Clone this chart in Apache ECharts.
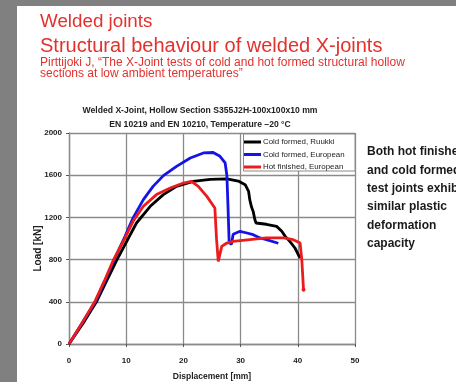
<!DOCTYPE html>
<html><head><meta charset="utf-8">
<script src="https://cdn.jsdelivr.net/npm/echarts@6/dist/echarts.min.js"></script>
<style>html,body{margin:0;padding:0;background:#fff;}#c{width:456px;height:382px;}</style>
</head><body><div id="c"></div>
<script>
// ---- data ----
const xTicks = [0, 10, 20, 30, 40, 50];
const yTicks = [0, 400, 800, 1200, 1600, 2000];
const seriesNames = ['Cold formed, Ruukki', 'Cold formed, European', 'Hot finished, European'];
const seriesColors = ['#000000', '#1414e6', '#ec1c1c'];
const ruukki = [[0,0],[2.5,200],[4.8,400],[6.6,600],[8.4,800],[10.4,1005],[11.8,1147],[14.2,1305],[16.5,1416],[18.8,1494],[21.7,1541],[24.7,1560],[27.6,1565],[29.6,1545],[30.8,1510],[31.4,1446],[31.6,1368],[31.9,1300],[32.2,1257],[32.5,1178],[32.7,1147],[34.5,1135],[36.3,1115],[37.2,1068],[37.8,1020],[38.6,973],[39.5,910],[40.4,815]];
const european = [[0,0],[2.3,200],[4.6,400],[6.3,600],[7.9,800],[9.8,1020],[11.2,1195],[13.0,1368],[14.7,1494],[16.5,1596],[18.8,1684],[21.2,1763],[23.5,1811],[25.2,1815],[26.4,1779],[27.3,1716],[27.6,1600],[27.8,1300],[28.0,960],[28.4,945],[28.7,1040],[29.9,1068],[31.1,1052],[32.2,1036],[33.4,1005],[34.5,989],[36.6,955]];
const hotFinished = [[0,0],[2.3,200],[4.5,400],[6.2,600],[7.8,800],[9.8,1005],[11.2,1163],[13.0,1305],[15.3,1416],[17.7,1479],[20.0,1526],[21.4,1541],[22.6,1494],[24.1,1399],[25.5,1289],[25.8,989],[26.1,783],[26.7,925],[27.6,957],[28.7,973],[31.6,989],[34.5,1005],[37.5,1005],[39.2,989],[40.4,957],[40.7,799],[41.0,515]];
const chartTitle = 'Welded X-Joint, Hollow Section S355J2H-100x100x10 mm';
const chartSubtitle = 'EN 10219 and EN 10210, Temperature \u201320 \u00B0C';
const xName = 'Displacement [mm]';
const yName = 'Load [kN]';
const slideTitle1 = 'Welded joints';
const slideTitle2 = 'Structural behaviour of welded X-joints';
const slideRef1 = 'Pirttijoki J, \u201CThe X-Joint tests of cold and hot formed structural hollow';
const slideRef2 = 'sections at low ambient temperatures\u201D';
const sideText = ['Both hot finished', 'and cold formed', 'test joints exhibit', 'similar plastic', 'deformation', 'capacity'];

// ---- chart ----
const FF = "'Liberation Sans', Arial, sans-serif";
const chart = echarts.init(document.getElementById('c'));
const G = {left: 69, top: 133, width: 286, height: 211, containLabel: false, outerBoundsMode: 'none'};
const gridColor = '#8a8a8a';
const red = '#e3312d';

function mkSeries(i, data) {
  const d = data.map((p, k) => (i === 2 && k === data.length - 1)
    ? {value: p, symbol: 'circle', symbolSize: 4} : p);
  return {
    name: seriesNames[i], type: 'line', data: d, symbol: 'none', showSymbol: true,
    lineStyle: {color: seriesColors[i], width: 2.8}, itemStyle: {color: seriesColors[i]},
    emphasis: {disabled: true}, animation: false, z: 3 + (i === 0 ? 0 : i)
  };
}

const graphics = [
  {type: 'rect', shape: {x: 0, y: 0, width: 17, height: 382}, style: {fill: '#808080'}, z: 100},
  {type: 'rect', shape: {x: 0, y: 0, width: 456, height: 6}, style: {fill: '#808080'}, z: 100},
  {type: 'text', x: 40, y: 22, style: {text: slideTitle1, font: '18.8px ' + FF, fill: red, verticalAlign: 'middle'}},
  {type: 'text', x: 40, y: 46, style: {text: slideTitle2, font: '20px ' + FF, fill: red, verticalAlign: 'middle'}},
  {type: 'text', x: 40, y: 62.5, style: {text: slideRef1, font: '12px ' + FF, fill: red, verticalAlign: 'middle'}},
  {type: 'text', x: 40, y: 74, style: {text: slideRef2, font: '12px ' + FF, fill: red, verticalAlign: 'middle'}},
  {type: 'text', x: 200, y: 111, style: {text: chartTitle, font: 'bold 8.6px ' + FF, fill: '#222', align: 'center', verticalAlign: 'middle'}},
  {type: 'text', x: 200, y: 125, style: {text: chartSubtitle, font: 'bold 8.6px ' + FF, fill: '#222', align: 'center', verticalAlign: 'middle'}},
  {type: 'text', x: 38, y: 248.5, rotation: Math.PI / 2, style: {text: yName, font: 'bold 10px ' + FF, fill: '#222', align: 'center', verticalAlign: 'middle'}},
  {type: 'rect', shape: {x: 243.5, y: 134, width: 111.5, height: 37}, style: {fill: '#fff', stroke: '#8a8a8a', lineWidth: 1}, z: 10}
];
sideText.forEach((t, i) => graphics.push({type: 'text', x: 367, y: 152 + i * 18.3,
  style: {text: t, font: 'bold 12px ' + FF, fill: '#1a1a1a', verticalAlign: 'middle'}}));

chart.setOption({
  animation: false,
  backgroundColor: '#fff',
  textStyle: {fontFamily: FF},
  grid: G,
  legend: {
    orient: 'vertical', left: 244, top: 138, z: 20,
    itemWidth: 17, itemHeight: 3, itemGap: 4.5, padding: 0,
    icon: 'rect',
    textStyle: {fontSize: 7.9, color: '#222', fontFamily: FF, padding: [0, 0, 0, -3]},
    data: seriesNames
  },
  xAxis: {
    type: 'value', min: xTicks[0], max: xTicks[xTicks.length - 1], interval: xTicks[1] - xTicks[0],
    name: xName, nameLocation: 'middle', nameGap: 28.5,
    nameTextStyle: {fontSize: 8.5, fontWeight: 'bold', color: '#222'},
    axisLine: {lineStyle: {color: gridColor, width: 1.3}},
    axisTick: {show: true, inside: false, length: 3, lineStyle: {color: '#555'}},
    axisLabel: {fontSize: 8, fontWeight: 'bold', color: '#222', margin: 12.5, formatter: v => String(v)},
    splitLine: {show: true, lineStyle: {color: gridColor, width: 1.3}}
  },
  yAxis: {
    type: 'value', min: yTicks[0], max: yTicks[yTicks.length - 1], interval: yTicks[1] - yTicks[0],
    axisLine: {show: true, lineStyle: {color: gridColor, width: 1.3}},
    axisTick: {show: true, length: 3, lineStyle: {color: '#555'}},
    axisLabel: {fontSize: 8, fontWeight: 'bold', color: '#222', margin: 7, formatter: v => String(v)},
    splitLine: {show: true, lineStyle: {color: gridColor, width: 1.3}}
  },
  graphic: graphics,
  series: [mkSeries(0, ruukki), mkSeries(1, european), mkSeries(2, hotFinished)]
});
</script>
</body></html>
